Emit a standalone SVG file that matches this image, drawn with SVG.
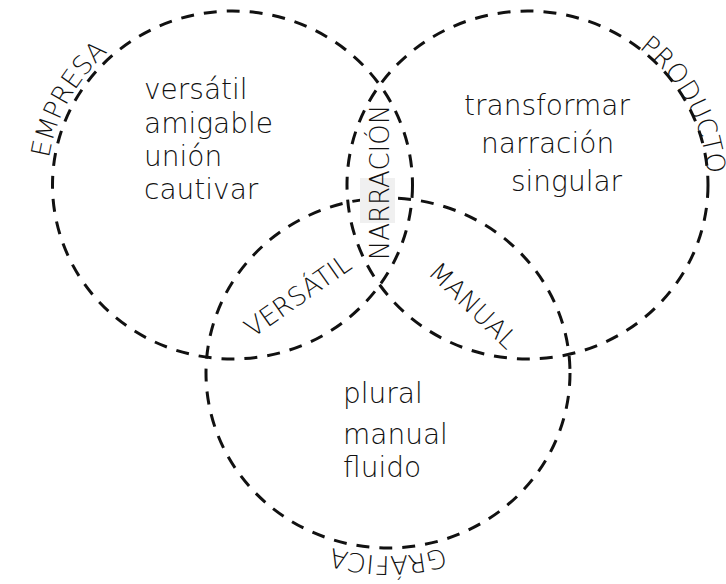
<svg xmlns="http://www.w3.org/2000/svg" width="726" height="584" viewBox="0 0 726 584">
  <style>
    .ring { fill: none; stroke: #111; stroke-width: 3; stroke-dasharray: 13 10; }
    .word { font-family: "DejaVu Sans", "Liberation Sans", sans-serif; font-weight: 300; font-size: 28px; fill: #111; }
    .lab { font-family: "DejaVu Sans", "Liberation Sans", sans-serif; font-weight: 300; font-size: 26px; fill: #111; }
  </style>
  <defs>
    <path id="arcEmpresa" d="M51.0,222.2 A185,179 0 0 1 162.7,19.0"/>
    <path id="arcProducto" d="M596.4,24.2 A180,174 0 0 1 703.2,222.7"/>
    <path id="arcGrafica" d="M510.1,513.2 A190,183 0 0 1 265.9,513.2"/>
  </defs>
  <rect width="726" height="584" fill="#fff"/>
  <g id="connectors"></g>
  <g id="empresa">
    <ellipse class="ring" cx="232.5" cy="185" rx="180" ry="174"/>
    <text class="lab"><textPath href="#arcEmpresa" startOffset="50%" text-anchor="middle">EMPRESA</textPath></text>
    <text class="word" x="144" y="99">versátil</text>
    <text class="word" x="144" y="133">amigable</text>
    <text class="word" x="144" y="166">unión</text>
    <text class="word" x="144" y="199">cautivar</text>
  </g>
  <g id="producto">
    <ellipse class="ring" cx="527.5" cy="185" rx="180.5" ry="174"/>
    <text class="lab"><textPath href="#arcProducto" startOffset="50%" text-anchor="middle">PRODUCTO</textPath></text>
    <text class="word" x="464" y="115">transformar</text>
    <text class="word" x="481" y="153">narración</text>
    <text class="word" x="511" y="191">singular</text>
  </g>
  <g id="grafica">
    <ellipse class="ring" cx="388" cy="373" rx="182" ry="175"/>
    <text class="lab"><textPath href="#arcGrafica" startOffset="50%" text-anchor="middle">GRÁFICA</textPath></text>
    <text class="word" x="343" y="403">plural</text>
    <text class="word" x="343" y="444">manual</text>
    <text class="word" x="343" y="477">fluido</text>
  </g>
  <g id="narracion">
    <rect x="360" y="178" width="35" height="45" fill="#f0f0f0"/>
    <text class="lab" transform="translate(389,182.5) rotate(-90)" text-anchor="middle">NARRACIÓN</text>
  </g>
  <g id="versatil">
    <text class="lab" transform="translate(303,303) rotate(-35)" text-anchor="middle">VERSÁTIL</text>
  </g>
  <g id="manual">
    <text class="lab" transform="translate(467,312) rotate(44)" text-anchor="middle">MANUAL</text>
  </g>
</svg>
